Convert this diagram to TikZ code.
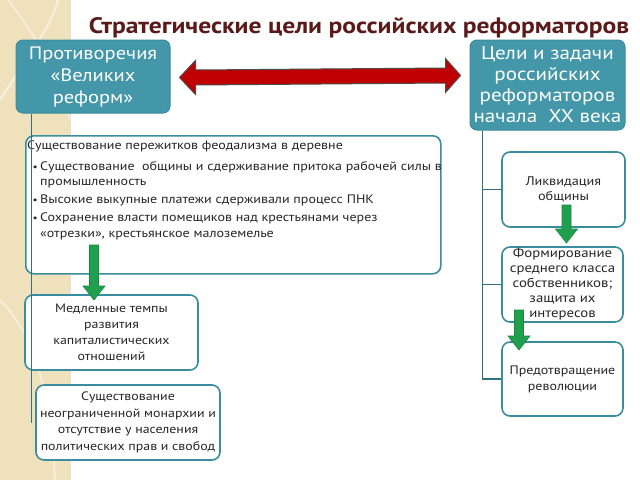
\documentclass[tikz,border=0pt]{standalone}
\usepackage{fontspec}
\setmainfont[FakeStretch=1.14]{PT Sans}
\usetikzlibrary{calc}
\definecolor{beige}{HTML}{EFE1BC}
\definecolor{swirlc}{HTML}{F7EEDA}
\definecolor{tealf}{HTML}{4397A9}
\definecolor{tealb}{HTML}{3A8C9F}
\definecolor{connc}{HTML}{2E7384}
\definecolor{titlec}{HTML}{5B1A1A}
\definecolor{redf}{HTML}{C00000}
\definecolor{greenf}{HTML}{20A04F}
\definecolor{greenb}{HTML}{178A40}
\definecolor{txtc}{HTML}{262626}
\tikzset{
  tbox/.style={draw=tealb, line width=1pt, fill=tealf, rounded corners=7pt, text=white, align=center, inner sep=0pt, font=\fontsize{18}{22}\selectfont},
  wbox/.style={draw=tealb, line width=1.6pt, fill=white, rounded corners=8pt, text=txtc, align=center, inner sep=0pt},
  conn/.style={draw=connc, line width=1.5pt},
  btxt/.style={text=txtc, inner sep=0pt, font=\fontsize{12.3}{15}\selectfont, anchor=base west},
  gfill/.style={fill=greenf, draw=greenb, line width=0.6pt},
  pics/gdown/.style={code={\draw[gfill] (-4.5,0) -- (4.5,0) -- (4.5,{#1-14}) -- (11,{#1-14}) -- (0,#1) -- (-11,{#1-14}) -- (-4.5,{#1-14}) -- cycle;}}
}
\begin{document}
\begin{tikzpicture}[x=1pt,y=-1pt]
\useasboundingbox (0,0) rectangle (640,480);
\fill[white] (0,0) rectangle (640,480);
% decorative strip
\fill[beige] (0,0) rectangle (70,480);
\draw[swirlc, line width=2.5pt] (0,100) .. controls (25,60) and (50,30) .. (58,0);
\draw[swirlc, line width=2pt] (8,0) .. controls (35,35) and (60,75) .. (70,120);
\draw[swirlc, line width=2pt] (0,300) .. controls (30,330) and (50,380) .. (55,480);
\draw[black!12, line width=0.6pt] (70,0) -- (70,480);
% title
\node[text=titlec, font=\bfseries\fontsize{22.4}{26}\selectfont, inner sep=0pt] (title) at (359,28) {Стратегические цели российских реформаторов};
% top boxes
\node[tbox, minimum width=154, minimum height=73] (b1) at (93,76.5) {Противоречия\\«Великих\\реформ»};
\node[tbox, minimum width=155, minimum height=90, font=\fontsize{18.5}{21}\selectfont] (b2) at (547.5,85) {Цели и задачи\\российских\\реформаторов\\начала~ XX века};
% red double arrow
\coordinate (rl) at ([xshift=9,yshift=-1]b1.east);
\coordinate (rr) at ($(b2.west)+(-9,-9.5)$);
\draw[fill=redf, draw=black!70, line width=1pt, line join=miter]
  (rl) -- ($(rl)+(16,-17)$) -- ($(rl)+(16,-7.5)$) -- ($(rr)+(-15,-7.5)$) -- ($(rr)+(-15,-17)$) -- (rr)
  -- ($(rr)+(-15,17)$) -- ($(rr)+(-15,7.5)$) -- ($(rl)+(16,7.5)$) -- ($(rl)+(16,17)$) -- cycle;
% big box
\node[wbox, minimum width=415, minimum height=138, anchor=north west] (big) at (25,135) {};
\node[btxt] (t0) at (27,149) {Существование пережитков феодализма в деревне};
\node[btxt] (t1a) at (40,170) {Существование\ \ общины и сдерживание притока рабочей силы в};
\node[btxt] (t1b) at (40,185) {промышленность};
\node[btxt] (t2) at (40,203) {Высокие выкупные платежи сдерживали процесс ПНК};
\node[btxt] (t3a) at (40,221) {Сохранение власти помещиков над крестьянами через};
\node[btxt] (t3b) at (40,237) {«отрезки», крестьянское малоземелье};
\foreach \n in {t1a,t2,t3a} \node[btxt, anchor=base east, font=\fontsize{10}{12}\selectfont] at ([xshift=-2]\n.base west) {•};
% left boxes
\node[wbox, minimum width=173, minimum height=75, font=\fontsize{12.2}{16}\selectfont] (l1) at (111.5,332.5) {Медленные темпы\\развития\\капиталистических\\отношений};
\node[wbox, minimum width=184, minimum height=75, font=\fontsize{12.2}{16.5}\selectfont] (l2) at (128,422.5) {Существование\\неограниченной монархии и\\отсутствие у населения\\политических прав и свобод};
% right boxes
\node[wbox, minimum width=123, minimum height=75, font=\fontsize{12.5}{15.5}\selectfont] (r1) at (563.5,189.5) {Ликвидация\\общины};
\node[wbox, minimum width=121, minimum height=75, font=\fontsize{13}{15}\selectfont] (r2) at (562.5,284.5) {Формирование\\среднего класса\\собственников;\\защита их\\интересов};
\node[wbox, minimum width=121, minimum height=74, font=\fontsize{12.3}{16}\selectfont] (r3) at (562.5,379) {Предотвращение\\революции};
% connectors
\coordinate (lt) at ([xshift=16]b1.south west);
\coordinate (lend) at (lt |- 0,423);
\draw[conn] (lt) -- (lend);
\coordinate (rt) at ([xshift=13]b2.south west);
\draw[conn] (rt) |- (r3.west);
\draw[conn] (rt |- r1.west) -- (r1.west);
\draw[conn] (rt |- r2.west) -- (r2.west);
% green arrows
\pic at (94,245) {gdown=55};
\pic at (566.5,205) {gdown=38};
\pic at (519,310) {gdown=40};
\end{tikzpicture}
\end{document}
